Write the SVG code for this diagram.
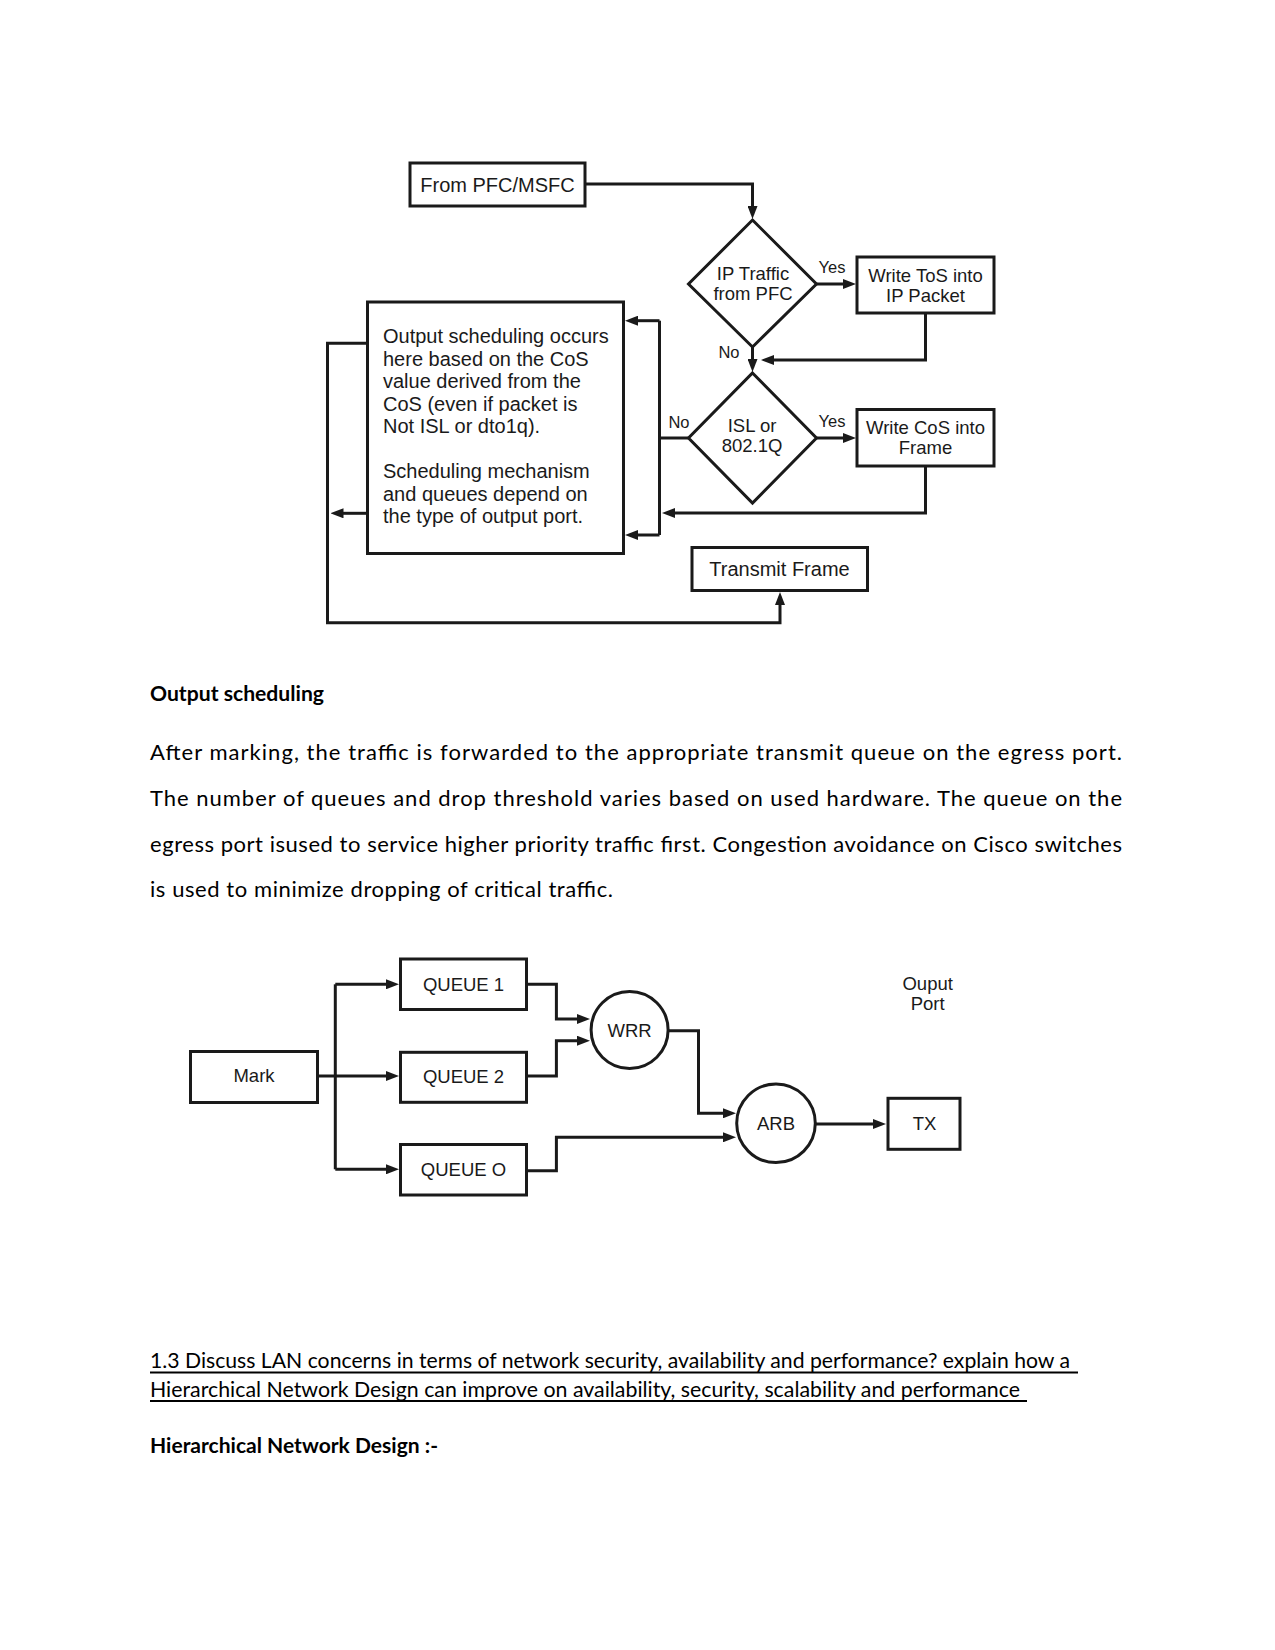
<svg xmlns="http://www.w3.org/2000/svg" width="1275" height="1650" viewBox="0 0 1275 1650">
<style>
.bx{fill:#fff;stroke:#1a1a1a;stroke-width:3}
.ln{fill:none;stroke:#1a1a1a;stroke-width:3}
.ar{fill:none;stroke:#1a1a1a;stroke-width:3;marker-end:url(#ah)}
.t{font-family:"Liberation Sans",Arial,sans-serif;fill:#1a1a1a;text-anchor:middle}
.t20{font-size:20px}
.t19{font-size:18.5px}
.t16{font-size:16.5px}
.tl{font-family:"Liberation Sans",Arial,sans-serif;fill:#1a1a1a;font-size:20px}
.body{font-family:Lato,"Open Sans",sans-serif;font-size:22px;fill:#000}
.hd{font-size:21px}
.bold{font-weight:bold}
.ul{stroke:#000;stroke-width:1.8}
</style>
<defs>
<marker id="ah" viewBox="0 0 13 10" refX="7" refY="5" markerWidth="13" markerHeight="10" markerUnits="userSpaceOnUse" orient="auto">
<path d="M0,0 L13,5 L0,10 z" fill="#1a1a1a"/>
</marker>
</defs>
<rect width="1275" height="1650" fill="#fff"/>

<!-- Top flowchart -->
<g id="connectors-top">
<path class="ar" d="M585,184 H752.5 V213"/>
<path class="ar" d="M816.5,284 H850"/>
<path class="ar" d="M925.5,313 V360 H767"/>
<path class="ar" d="M752.5,347 V366"/>
<path class="ar" d="M816.5,438 H850"/>
<path class="ar" d="M925.5,466 V513 H668"/>
<path class="ln" d="M688.5,438 H659.5"/>
<path class="ln" d="M659.5,320.7 V535"/>
<path class="ar" d="M659.5,320.7 H631"/>
<path class="ar" d="M659.5,535 H631"/>
<path class="ar" d="M367.5,513.3 H336.5"/>
<path class="ar" d="M367.5,343.3 H327.5 V622.7 H780 V598"/>
<text class="t t16" x="832" y="273">Yes</text>
<text class="t t16" x="729" y="358">No</text>
<text class="t t16" x="832" y="427">Yes</text>
<text class="t t16" x="679" y="428">No</text>
</g>

<g id="node-from-pfc">
<rect class="bx" x="410" y="163" width="175" height="43"/>
<text class="t t20" x="497.5" y="191.5">From PFC/MSFC</text>
</g>
<g id="node-ip-traffic">
<polygon class="bx" points="752.5,220 816.5,284 752.5,347 688.5,284"/>
<text class="t t19" x="753" y="280">IP Traffic</text>
<text class="t t19" x="753" y="300">from PFC</text>
</g>
<g id="node-write-tos">
<rect class="bx" x="857" y="257" width="137" height="56"/>
<text class="t t19" x="925.5" y="281.5">Write ToS into</text>
<text class="t t19" x="925.5" y="301.5">IP Packet</text>
</g>
<g id="node-isl">
<polygon class="bx" points="752.5,373 816.5,438 752.5,503 688.5,438"/>
<text class="t t19" x="752" y="431.5">ISL or</text>
<text class="t t19" x="752" y="451.5">802.1Q</text>
</g>
<g id="node-write-cos">
<rect class="bx" x="857" y="409.5" width="137" height="56.5"/>
<text class="t t19" x="925.5" y="434">Write CoS into</text>
<text class="t t19" x="925.5" y="454">Frame</text>
</g>
<g id="node-output-sched">
<rect class="bx" x="367.5" y="302" width="256" height="251.5"/>
<text class="tl" x="383" y="343.3">Output scheduling occurs</text>
<text class="tl" x="383" y="365.7">here based on the CoS</text>
<text class="tl" x="383" y="388.3">value derived from the</text>
<text class="tl" x="383" y="411">CoS (even if packet is</text>
<text class="tl" x="383" y="433.3">Not ISL or dto1q).</text>
<text class="tl" x="383" y="478.3">Scheduling mechanism</text>
<text class="tl" x="383" y="501">and queues depend on</text>
<text class="tl" x="383" y="523.3">the type of output port.</text>
</g>
<g id="node-transmit">
<rect class="bx" x="692" y="547.5" width="175.5" height="43"/>
<text class="t t20" x="779.5" y="576">Transmit Frame</text>
</g>

<!-- Body text -->
<text class="body hd bold" x="150" y="701" textLength="174" lengthAdjust="spacingAndGlyphs">Output scheduling</text>
<text class="body" x="150" y="760" textLength="972" lengthAdjust="spacing">After marking, the traffic is forwarded to the appropriate transmit queue on the egress port.</text>
<text class="body" x="150" y="806" textLength="972" lengthAdjust="spacing">The number of queues and drop threshold varies based on used hardware. The queue on the</text>
<text class="body" x="150" y="851.5" textLength="972" lengthAdjust="spacing">egress port isused to service higher priority traffic first. Congestion avoidance on Cisco switches</text>
<text class="body" x="150" y="897" textLength="463" lengthAdjust="spacing">is used to minimize dropping of critical traffic.</text>

<!-- Bottom diagram -->
<g id="connectors-bottom">
<path class="ar" d="M317.5,1076 H393"/>
<path class="ln" d="M335.3,984.3 V1169.3"/>
<path class="ar" d="M335.3,984.3 H393"/>
<path class="ar" d="M335.3,1169.3 H393"/>
<path class="ar" d="M526.5,984.3 H556.4 V1019 H584"/>
<path class="ar" d="M526.5,1076 H556.4 V1040.7 H584"/>
<path class="ar" d="M668,1030.7 H698.5 V1113.3 H730"/>
<path class="ar" d="M526.5,1170.7 H556.4 V1137.3 H730"/>
<path class="ar" d="M815.3,1124 H880"/>
</g>
<g id="node-mark">
<rect class="bx" x="190.5" y="1051.5" width="127" height="51"/>
<text class="t t19" x="254" y="1082">Mark</text>
</g>
<g id="node-queue1">
<rect class="bx" x="400.5" y="959" width="126" height="50.5"/>
<text class="t t19" x="463.5" y="991">QUEUE 1</text>
</g>
<g id="node-queue2">
<rect class="bx" x="400.5" y="1052.3" width="126" height="50"/>
<text class="t t19" x="463.5" y="1083">QUEUE 2</text>
</g>
<g id="node-queue0">
<rect class="bx" x="400.5" y="1144.5" width="126" height="50.5"/>
<text class="t t19" x="463.5" y="1175.5">QUEUE O</text>
</g>
<g id="node-wrr">
<circle class="bx" cx="629.6" cy="1030" r="38.5"/>
<text class="t t19" x="629.6" y="1036.5">WRR</text>
</g>
<g id="node-arb">
<circle class="bx" cx="776" cy="1123.3" r="39.3"/>
<text class="t t19" x="776" y="1130">ARB</text>
</g>
<g id="node-tx">
<rect class="bx" x="888" y="1098.3" width="72" height="51"/>
<text class="t t19" x="924.5" y="1130">TX</text>
</g>
<g id="label-output-port">
<text class="t t19" x="927.7" y="989.5">Ouput</text>
<text class="t t19" x="927.7" y="1010">Port</text>
</g>

<!-- Heading text -->
<text class="body hd" x="150" y="1368" textLength="920" lengthAdjust="spacingAndGlyphs">1.3 Discuss LAN concerns in terms of network security, availability and performance? explain how a</text>
<line class="ul" x1="150" y1="1372.5" x2="1078" y2="1372.5"/>
<text class="body hd" x="150" y="1396.5" textLength="870" lengthAdjust="spacingAndGlyphs">Hierarchical Network Design can improve on availability, security, scalability and performance</text>
<line class="ul" x1="150" y1="1401" x2="1027" y2="1401"/>
<text class="body hd bold" x="150" y="1452.5" textLength="288" lengthAdjust="spacingAndGlyphs">Hierarchical Network Design :-</text>
</svg>
